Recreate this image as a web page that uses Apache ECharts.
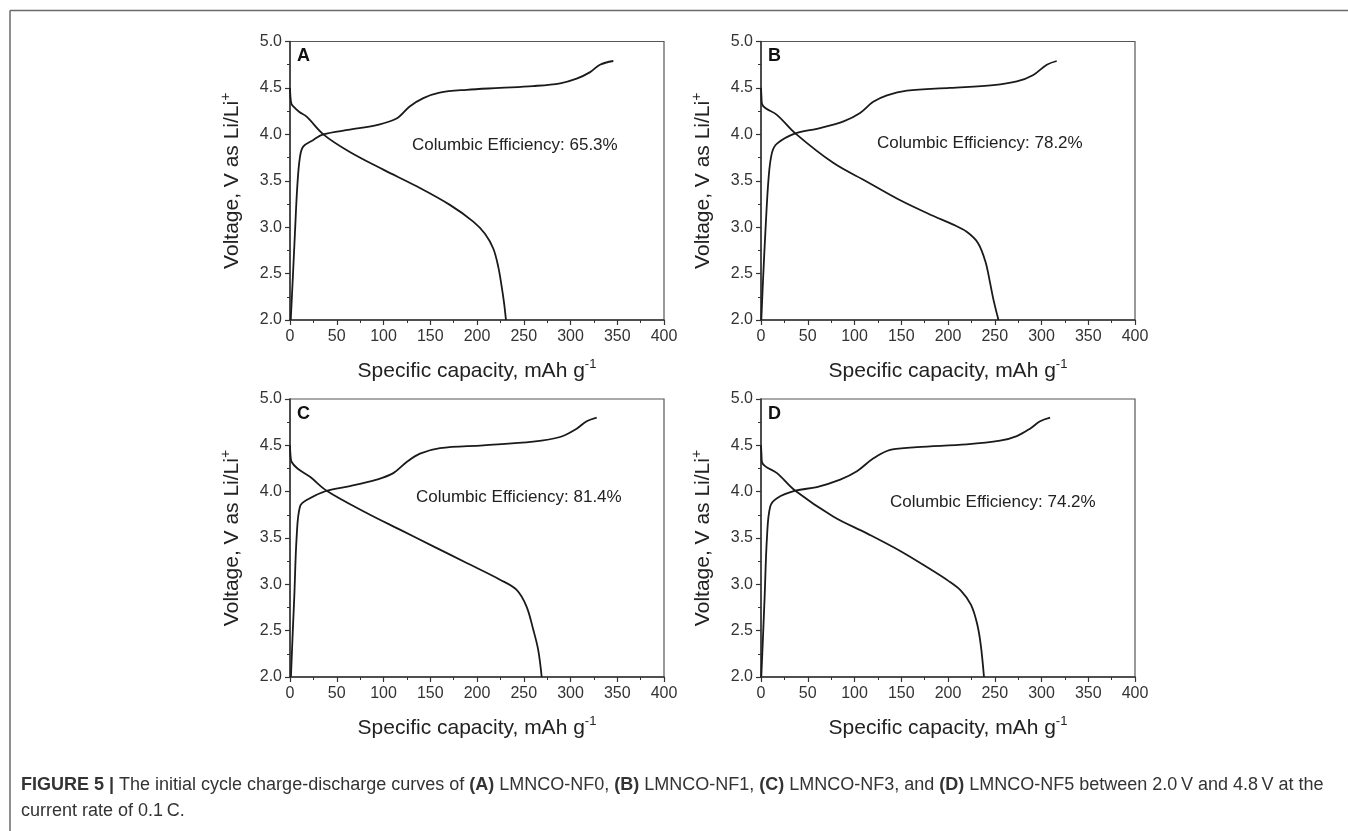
<!DOCTYPE html>
<html>
<head>
<meta charset="utf-8">
<script src="https://cdn.jsdelivr.net/npm/echarts@6/dist/echarts.min.js"></script>
<style>
  html, body { margin: 0; padding: 0; background: #fff; }
  #chart { width: 1348px; height: 831px; }
</style>
</head>
<body>
<div id="chart"></div>
<script>
// Panel letters and Coulombic efficiencies
const panelLetters = ['A', 'B', 'C', 'D'];
const efficiencies = ['65.3%', '78.2%', '81.4%', '74.2%'];

// Axis ranges
const capacityRange = [0, 400];
const capacityStep = 50;
const voltageRange = [2.0, 5.0];
const voltageStep = 0.5;

// First-cycle curves: [specific capacity (mAh/g), voltage (V)]
const chargeA = [[0.8,2.0],[3,2.45],[5.3,2.94],[7.8,3.44],[10.7,3.76],[14.3,3.87],[25,3.94],[35.6,4.0],[64,4.05],[92.7,4.10],[114,4.17],[128,4.30],[142.6,4.39],[160,4.45],[189,4.48],[224.6,4.50],[260,4.52],[289,4.55],[306.6,4.60],[321,4.67],[331.5,4.75],[345.8,4.79]];
const dischargeA = [[0,4.5],[0.5,4.4],[1.5,4.33],[3.5,4.30],[10,4.24],[17.8,4.19],[35.6,4.0],[64,3.81],[99.8,3.62],[135.5,3.44],[171,3.24],[196,3.06],[208.5,2.93],[217.4,2.77],[222.8,2.57],[226.4,2.36],[229,2.18],[231,2.0]];

const chargeB = [[0.3,2.0],[2.5,2.5],[4.6,2.93],[8.2,3.54],[11.7,3.80],[17.1,3.90],[36.7,4.01],[59.8,4.06],[88.3,4.14],[106,4.23],[120,4.35],[134.7,4.42],[156,4.47],[202,4.50],[248.6,4.53],[273.6,4.57],[291.3,4.64],[305.7,4.75],[316.3,4.79]];
const dischargeB = [[0,4.5],[0.5,4.4],[1,4.33],[5,4.28],[17,4.21],[36.7,4.01],[77.6,3.69],[113.3,3.49],[148.9,3.29],[184.5,3.12],[205,3.03],[220,2.95],[232,2.83],[240,2.63],[245,2.40],[248.6,2.22],[254,2.0]];

const chargeC = [[1,2.0],[3,2.5],[4.6,2.87],[7.1,3.51],[10.7,3.84],[17.8,3.91],[39.2,4.01],[64.2,4.06],[92.7,4.13],[110.5,4.20],[124.8,4.32],[139,4.41],[160.4,4.47],[206.7,4.50],[260,4.54],[288.8,4.59],[306.6,4.68],[317.3,4.76],[328,4.80]];
const dischargeC = [[0,4.5],[0.5,4.4],[1.8,4.32],[8,4.25],[21.4,4.16],[39.2,4.01],[82,3.77],[117.6,3.59],[153.3,3.41],[189,3.23],[224.6,3.05],[242.4,2.94],[253,2.76],[260.2,2.51],[265.5,2.29],[269.2,2.0]];

const chargeD = [[0.3,2.0],[2,2.4],[3.9,2.87],[6.4,3.51],[9.9,3.84],[17.1,3.93],[36.7,4.01],[59.8,4.05],[84.7,4.13],[102.6,4.22],[120.3,4.36],[138.2,4.45],[166.7,4.48],[220,4.51],[255.7,4.55],[273.6,4.60],[287.8,4.68],[298.5,4.76],[309.2,4.80]];
const dischargeD = [[0,4.5],[0.5,4.4],[1,4.32],[5,4.27],[17.1,4.20],[36.7,4.01],[77.6,3.73],[113.3,3.55],[148.9,3.36],[180,3.17],[200,3.04],[214,2.93],[224.5,2.78],[231,2.58],[235,2.35],[238.5,2.0]];

const chargeCurves = [chargeA, chargeB, chargeC, chargeD];
const dischargeCurves = [dischargeA, dischargeB, dischargeC, dischargeD];

// Layout of the four plot boxes (pixels)
const W = 1348, H = 831;
const panels = [
  { left: 290, top: 41.5, width: 374, height: 278.5, note: [412, 145] },
  { left: 761, top: 41.5, width: 374, height: 278.5, note: [877, 143] },
  { left: 290, top: 399,  width: 374, height: 278,   note: [416, 497] },
  { left: 761, top: 399,  width: 374, height: 278,   note: [890, 502] }
];

const FONT = 'Liberation Sans, Arial, sans-serif';
const INK = '#222';
const AXIS = '#333';

const grid = panels.map(p => ({
  left: p.left, top: p.top, width: p.width, height: p.height,
  show: true, borderColor: '#555', borderWidth: 1.2, backgroundColor: 'transparent'
}));

const xAxis = panels.map((p, i) => ({
  type: 'value', gridIndex: i,
  min: capacityRange[0], max: capacityRange[1], interval: capacityStep,
  axisLine: { onZero: false, lineStyle: { color: AXIS, width: 1.5 } },
  axisTick: { length: 5, lineStyle: { color: AXIS, width: 1.2 } },
  minorTick: { show: true, splitNumber: 2, length: 3, lineStyle: { color: AXIS, width: 1 } },
  splitLine: { show: false },
  axisLabel: { margin: 9, color: '#333', fontSize: 16, fontFamily: FONT },
  name: '{t|Specific capacity, mAh g}{s|-1}',
  nameLocation: 'middle', nameGap: 38,
  nameTextStyle: {
    color: INK, fontFamily: FONT,
    rich: {
      t: { fontSize: 21, fontFamily: FONT, color: INK, lineHeight: 26 },
      s: { fontSize: 13, fontFamily: FONT, color: INK, verticalAlign: 'top', lineHeight: 15 }
    }
  }
}));

const yAxis = panels.map((p, i) => ({
  type: 'value', gridIndex: i,
  min: voltageRange[0], max: voltageRange[1], interval: voltageStep,
  axisLine: { onZero: false, lineStyle: { color: AXIS, width: 1.5 } },
  axisTick: { length: 5, lineStyle: { color: AXIS, width: 1.2 } },
  minorTick: { show: true, splitNumber: 2, length: 3, lineStyle: { color: AXIS, width: 1 } },
  splitLine: { show: false },
  axisLabel: { margin: 8, color: '#333', fontSize: 16, fontFamily: FONT, formatter: v => v.toFixed(1) },
  name: '{t|Voltage, V as Li/Li}{s|+}',
  nameLocation: 'middle', nameGap: 45,
  nameTextStyle: {
    color: INK, fontFamily: FONT,
    rich: {
      t: { fontSize: 21, fontFamily: FONT, color: INK, lineHeight: 26 },
      s: { fontSize: 14, fontFamily: FONT, color: INK, verticalAlign: 'top', lineHeight: 15 }
    }
  }
}));

const lineSeries = (data, i) => ({
  type: 'line', xAxisIndex: i, yAxisIndex: i, data,
  showSymbol: false, smooth: 0.35,
  lineStyle: { color: '#1a1a1a', width: 1.8 },
  silent: true, animation: false
});

const series = [];
panels.forEach((p, i) => {
  series.push(lineSeries(chargeCurves[i], i));
  series.push(lineSeries(dischargeCurves[i], i));
});

const graphic = [
  // figure frame (top and left rules)
  { type: 'line', shape: { x1: 10, y1: 10.5, x2: W, y2: 10.5 }, style: { stroke: '#6a6a6a', lineWidth: 1.5 } },
  { type: 'line', shape: { x1: 10, y1: 10.5, x2: 10, y2: H }, style: { stroke: '#6a6a6a', lineWidth: 1.5 } }
];

panels.forEach((p, i) => {
  graphic.push({
    type: 'text', x: p.left + 7, y: p.top + 6,
    style: { text: panelLetters[i], fontSize: 18, fontWeight: 'bold', fontFamily: FONT, fill: '#111', verticalAlign: 'top' }
  });
  graphic.push({
    type: 'text', x: p.note[0], y: p.note[1],
    style: { text: 'Columbic Efficiency: ' + efficiencies[i], fontSize: 17, fontFamily: FONT, fill: INK, verticalAlign: 'middle' }
  });
});

// caption
graphic.push({
  type: 'text', x: 21, y: 785,
  style: {
    text: '{b|FIGURE 5 |} The initial cycle charge-discharge curves of {b|(A)} LMNCO-NF0, {b|(B)} LMNCO-NF1, {b|(C)} LMNCO-NF3, and {b|(D)} LMNCO-NF5 between 2.0\u2009V and 4.8\u2009V at the',
    fontSize: 18, fontFamily: FONT, fill: '#333', verticalAlign: 'middle',
    rich: { b: { fontSize: 18, fontFamily: FONT, fontWeight: 'bold', fill: '#333' } }
  }
});
graphic.push({
  type: 'text', x: 21, y: 811,
  style: { text: 'current rate of 0.1\u2009C.', fontSize: 18, fontFamily: FONT, fill: '#333', verticalAlign: 'middle' }
});

const chart = echarts.init(document.getElementById('chart'), null, { renderer: 'canvas' });
chart.setOption({
  backgroundColor: '#fff',
  animation: false,
  grid, xAxis, yAxis, series, graphic
});
</script>
</body>
</html>
